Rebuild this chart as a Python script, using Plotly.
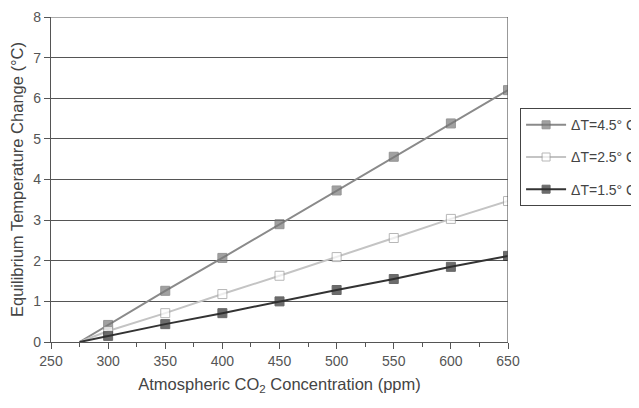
import plotly.graph_objects as go

co2 = [275, 300, 350, 400, 450, 500, 550, 600, 650]
dt45 = [0, 0.42, 1.26, 2.07, 2.90, 3.73, 4.56, 5.38, 6.20]
dt25 = [0, 0.27, 0.71, 1.18, 1.63, 2.09, 2.56, 3.03, 3.47]
dt15 = [0, 0.15, 0.44, 0.71, 1.00, 1.28, 1.55, 1.85, 2.12]
names = ["ΔT=4.5° C", "ΔT=2.5° C", "ΔT=1.5° C"]
x_ticks = [250, 300, 350, 400, 450, 500, 550, 600, 650]
y_ticks = [0, 1, 2, 3, 4, 5, 6, 7, 8]

font = "Liberation Sans, Arial, sans-serif"
fig = go.Figure()

def add(y, name, lcol, mfill, mline, grp):
    fig.add_trace(go.Scatter(
        x=co2, y=y, name=name, mode="lines+markers", legendgroup=grp,
        line=dict(color=lcol, width=2),
        marker=dict(symbol="square", size=[0] + [9] * (len(co2) - 1),
                    color=mfill, line=dict(color=mline, width=1)),
    ))

add(dt45, names[0], "#8a8a8a", "#7a7a7a", "#6a6a6a", "a")
add(dt25, names[1], "#c4c4c4", "#ffffff", "#9a9a9a", "b")
add(dt15, names[2], "#333333", "#2e2e2e", "#2a2a2a", "c")

axis_common = dict(
    showline=True, linecolor="#555555", linewidth=1.2, mirror=False,
    ticks="outside", tickcolor="#555555", ticklen=6,
    tickfont=dict(family=font, size=14, color="#555555"),
    zeroline=False, automargin=False,
)

fig.update_layout(
    width=639, height=408,
    margin=dict(l=43, r=139, t=9, b=74, autoexpand=False),
    paper_bgcolor="white", plot_bgcolor="white",
    font=dict(family=font, color="#444444"),
    xaxis=dict(
        range=[250, 650], tickvals=x_ticks, showgrid=False,
        minor=dict(ticks="outside", tickvals=[275, 325, 375, 425, 475, 525, 575, 625],
                   ticklen=4, tickcolor="#555555"),
        title=dict(text="Atmospheric CO<sub>2</sub> Concentration (ppm)",
                   font=dict(family=font, size=16.5, color="#444444"), standoff=10),
        **axis_common,
    ),
    yaxis=dict(
        range=[0, 8], tickvals=y_ticks, showgrid=True, gridcolor="#555555", gridwidth=1,
        title=dict(text="Equilibrium Temperature Change (°C)",
                   font=dict(family=font, size=16.5, color="#444444"), standoff=7),
        **axis_common,
    ),
    legend=dict(
        x=1.026, y=0.72, xanchor="left", yanchor="top",
        bordercolor="#444444", borderwidth=1.2, bgcolor="white",
        font=dict(family=font, size=14, color="#444444"),
        tracegroupgap=11, itemwidth=40,
    ),
    showlegend=True,
)

# top border (gridline at 8) and right border line at x=650
fig.add_shape(type="line", xref="paper", yref="y", x0=0, x1=1, y0=8, y1=8,
              line=dict(color="#555555", width=1.2))
fig.add_shape(type="line", xref="x", yref="paper", x0=650, x1=650, y0=0, y1=1,
              line=dict(color="#555555", width=1.2))

fig.write_html("out.html")
